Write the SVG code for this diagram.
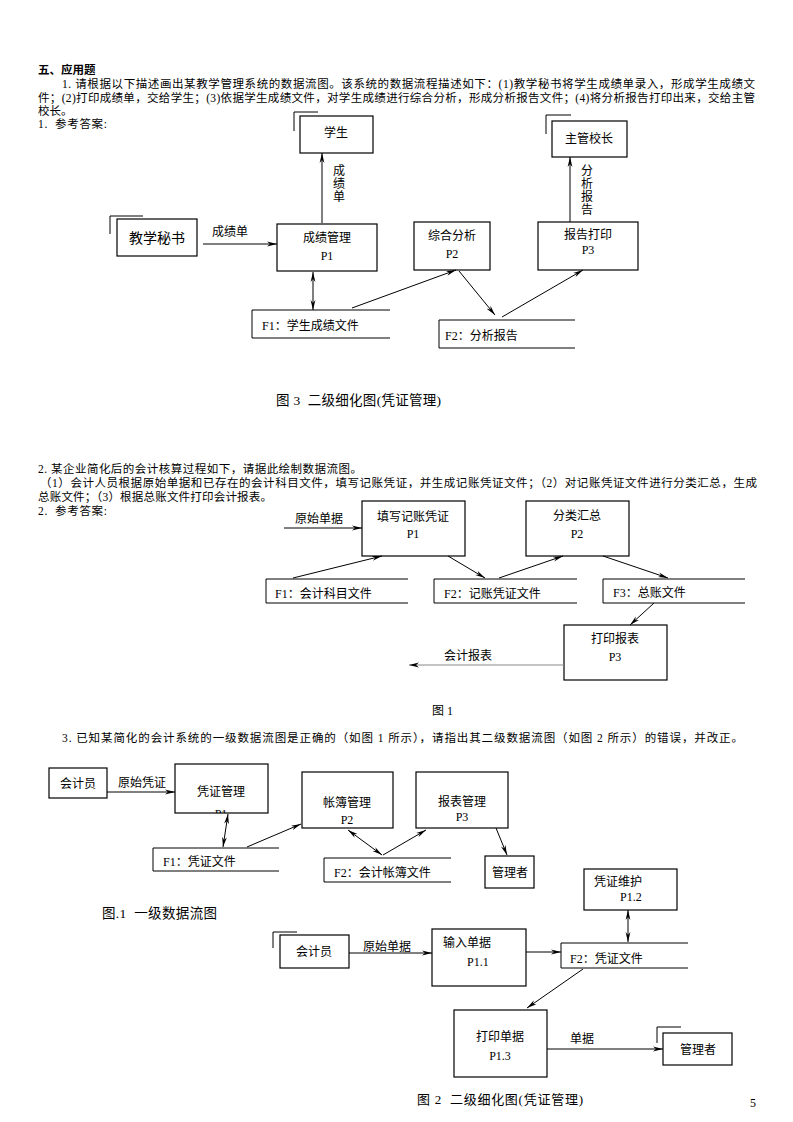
<svg xmlns="http://www.w3.org/2000/svg" width="793" height="1122" viewBox="0 0 793 1122">
<style>
text{font-family:"Liberation Serif","Noto Sans CJK SC",serif;fill:#000}
.t{font-size:11.5px}
.n{font-size:12px}
.c{text-anchor:middle}
.box{fill:#fff;stroke:#000;stroke-width:1.2}
.ln{fill:none;stroke:#000;stroke-width:1}
.fl{fill:none;stroke:#000;stroke-width:1;marker-end:url(#ah)}
.fl2{fill:none;stroke:#000;stroke-width:1;marker-end:url(#ah);marker-start:url(#as)}
</style>
<defs>
<marker id="ah" viewBox="0 0 10 6" refX="10" refY="3" markerWidth="10" markerHeight="6" markerUnits="userSpaceOnUse" orient="auto"><path d="M0,0.6 L10,3 L0,5.4 L3,3 Z" fill="#000"/></marker>
<marker id="as" viewBox="0 0 10 6" refX="0" refY="3" markerWidth="10" markerHeight="6" markerUnits="userSpaceOnUse" orient="auto"><path d="M10,0.6 L0,3 L10,5.4 L7,3 Z" fill="#000"/></marker>
<clipPath id="cp1"><rect x="175" y="764" width="93" height="49"/></clipPath>
</defs>

<g id="text-section1">
<text x="38" y="74" class="t" font-weight="bold">五、应用题</text>
<text x="62" y="88" class="t" textLength="693" lengthAdjust="spacing">1. 请根据以下描述画出某教学管理系统的数据流图。该系统的数据流程描述如下：(1)教学秘书将学生成绩单录入，形成学生成绩文</text>
<text x="38" y="102" class="t" textLength="717" lengthAdjust="spacing">件；(2)打印成绩单，交给学生；(3)依据学生成绩文件，对学生成绩进行综合分析，形成分析报告文件；(4)将分析报告打印出来，交给主管</text>
<text x="38" y="115" class="t">校长。</text>
<text x="38" y="128" class="t" textLength="69" lengthAdjust="spacing">1.&#160;&#160;参考答案:</text>
</g>

<g id="d1-student">
<path class="ln" d="M294,112 H318 M294,112 V131"/>
<rect class="box" x="300" y="116" width="73" height="37"/>
<text x="336" y="137" class="n c">学生</text>
</g>
<g id="d1-secretary">
<path class="ln" d="M110,216 H143 M110,216 V234"/>
<rect class="box" x="117" y="219" width="80" height="37"/>
<text x="157" y="243" class="c" font-size="14">教学秘书</text>
</g>
<g id="d1-p1">
<rect class="box" x="277" y="224" width="100" height="47"/>
<text x="327" y="242" class="n c">成绩管理</text>
<text x="327" y="260" class="n c">P1</text>
</g>
<g id="d1-p2">
<rect class="box" x="414" y="222" width="76" height="48"/>
<text x="452" y="240" class="n c">综合分析</text>
<text x="452" y="258" class="n c">P2</text>
</g>
<g id="d1-p3">
<rect class="box" x="538" y="222" width="100" height="48"/>
<text x="588" y="239" class="n c">报告打印</text>
<text x="588" y="254" class="n c">P3</text>
</g>
<g id="d1-principal">
<path class="ln" d="M546,115 H571 M546,115 V134"/>
<rect class="box" x="552" y="121" width="75" height="36"/>
<text x="589" y="143" class="n c">主管校长</text>
</g>
<g id="d1-f1">
<path class="ln" d="M390,310 H252 V338 H390"/>
<text x="262" y="330" class="n">F1：学生成绩文件</text>
</g>
<g id="d1-f2">
<path class="ln" d="M575,320 H439 V348 H575"/>
<text x="445" y="340" class="n">F2：分析报告</text>
</g>
<g id="d1-connectors">
<path class="fl" d="M203,244 H277"/>
<text x="212" y="236" class="n">成绩单</text>
<path class="fl" d="M322,223 V153"/>
<text x="339" y="175" class="n c">成</text>
<text x="339" y="188" class="n c">绩</text>
<text x="339" y="201" class="n c">单</text>
<path class="fl2" d="M313,272 V310"/>
<path class="fl" d="M352,308 L456,270"/>
<path class="fl" d="M459,271 L495,315"/>
<path class="fl" d="M502,317 L583,270"/>
<path class="fl" d="M570,222 V157"/>
<text x="587" y="175" class="n c">分</text>
<text x="587" y="188" class="n c">析</text>
<text x="587" y="201" class="n c">报</text>
<text x="587" y="214" class="n c">告</text>
</g>
<text x="276" y="405" font-size="13.5" textLength="165" lengthAdjust="spacing">图 3&#160;&#160;二级细化图(凭证管理)</text>

<g id="text-section2">
<text x="38" y="473" class="t" textLength="324" lengthAdjust="spacing">2. 某企业简化后的会计核算过程如下，请据此绘制数据流图。</text>
<text x="40" y="487" class="t" textLength="717" lengthAdjust="spacing">（1）会计人员根据原始单据和已存在的会计科目文件，填写记账凭证，并生成记账凭证文件；（2）对记账凭证文件进行分类汇总，生成</text>
<text x="38" y="501" class="t" textLength="234" lengthAdjust="spacing">总账文件；（3）根据总账文件打印会计报表。</text>
<text x="38" y="515" class="t" textLength="69" lengthAdjust="spacing">2.&#160;&#160;参考答案:</text>
</g>

<g id="d2-p1">
<rect class="box" x="362" y="501" width="103" height="55"/>
<text x="413" y="521" class="n c">填写记账凭证</text>
<text x="413" y="538" class="n c">P1</text>
</g>
<g id="d2-p2">
<rect class="box" x="526" y="501" width="103" height="55"/>
<text x="577" y="520" class="n c">分类汇总</text>
<text x="577" y="538" class="n c">P2</text>
</g>
<g id="d2-p3">
<rect class="box" x="564" y="625" width="103" height="55"/>
<text x="615" y="643" class="n c">打印报表</text>
<text x="615" y="661" class="n c">P3</text>
</g>
<g id="d2-f1">
<path class="ln" d="M408,579 H266 V603 H408"/>
<text x="275" y="598" class="n">F1：会计科目文件</text>
</g>
<g id="d2-f2">
<path class="ln" d="M577,579 H434 V603 H577"/>
<text x="444" y="598" class="n">F2：记账凭证文件</text>
</g>
<g id="d2-f3">
<path class="ln" d="M745,579 H603 V603 H745"/>
<text x="613" y="597" class="n">F3：总账文件</text>
</g>
<g id="d2-connectors">
<path class="fl" d="M284,528 H362"/>
<text x="295" y="523" class="n">原始单据</text>
<path class="fl" d="M293,578 L382,556"/>
<path class="fl" d="M448,556 L485,578"/>
<path class="fl" d="M499,578 L563,556"/>
<path class="fl" d="M603,556 L668,578"/>
<path class="fl" d="M654,603 L630,625"/>
<path d="M564,665 H409" fill="none" stroke="#888" stroke-width="1" marker-end="url(#ah)"/>
<text x="444" y="660" class="n">会计报表</text>
</g>
<text x="432" y="715" class="n">图 1</text>

<text x="62" y="742" class="t" textLength="681" lengthAdjust="spacing">3. 已知某简化的会计系统的一级数据流图是正确的（如图 1 所示），请指出其二级数据流图（如图 2 所示）的错误，并改正。</text>

<g id="d3-clerk">
<rect class="box" x="49" y="768" width="58" height="30"/>
<text x="78" y="788" class="n c">会计员</text>
</g>
<g id="d3-p1">
<rect class="box" x="175" y="764" width="93" height="49"/>
<text x="221" y="796" class="n c">凭证管理</text>
<text x="221" y="818" class="n c" clip-path="url(#cp1)">P1</text>
</g>
<g id="d3-p2">
<rect class="box" x="302" y="772" width="91" height="56"/>
<text x="347" y="807" class="n c">帐簿管理</text>
<text x="347" y="824" class="n c">P2</text>
</g>
<g id="d3-p3">
<rect class="box" x="416" y="772" width="92" height="56"/>
<text x="462" y="806" class="n c">报表管理</text>
<text x="462" y="821" class="n c">P3</text>
</g>
<g id="d3-manager">
<rect class="box" x="485" y="856" width="49" height="32"/>
<text x="510" y="877" class="n c">管理者</text>
</g>
<g id="d3-f1">
<path class="ln" d="M279,848 H153 V871 H279"/>
<text x="163" y="866" class="n">F1：凭证文件</text>
</g>
<g id="d3-f2">
<path class="ln" d="M451,858 H324 V882 H451"/>
<text x="334" y="877" class="n">F2：会计帐簿文件</text>
</g>
<g id="d3-connectors">
<path class="fl" d="M107,792 H175"/>
<text x="118" y="787" class="n">原始凭证</text>
<path class="fl2" d="M228,814 L223,847"/>
<path class="fl" d="M247,847 L301,824"/>
<path class="fl2" d="M348,830 L382,855"/>
<path class="fl" d="M383,855 L426,830"/>
<path class="fl" d="M496,828 L507,855"/>
</g>
<text x="102" y="918" font-size="13.5" textLength="115" lengthAdjust="spacing">图.1&#160;&#160;一级数据流图</text>

<g id="d4-p12">
<rect class="box" x="584" y="869" width="93" height="41"/>
<text x="594" y="886" class="n">凭证维护</text>
<text x="620" y="901" class="n">P1.2</text>
</g>
<g id="d4-f2">
<path class="ln" d="M688,943 H561 V968 H688"/>
<text x="570" y="963" class="n">F2：凭证文件</text>
</g>
<g id="d4-clerk">
<path class="ln" d="M273,932 H297 M273,932 V948"/>
<rect class="box" x="280" y="935" width="69" height="33"/>
<text x="314" y="956" class="n c">会计员</text>
</g>
<g id="d4-p11">
<rect class="box" x="432" y="929" width="94" height="57"/>
<text x="443" y="947" class="n">输入单据</text>
<text x="467" y="966" class="n">P1.1</text>
</g>
<g id="d4-p13">
<rect class="box" x="454" y="1010" width="93" height="67"/>
<text x="500" y="1041" class="n c">打印单据</text>
<text x="500" y="1060" class="n c">P1.3</text>
</g>
<g id="d4-manager">
<path class="ln" d="M657,1027 H681 M657,1027 V1043"/>
<rect class="box" x="663" y="1033" width="69" height="32"/>
<text x="698" y="1054" class="n c">管理者</text>
</g>
<g id="d4-connectors">
<path class="fl2" d="M628,910 V942"/>
<path class="fl" d="M349,953 H432"/>
<text x="363" y="951" class="n">原始单据</text>
<path class="fl" d="M526,952 H561"/>
<path class="fl" d="M583,969 L527,1008"/>
<path class="fl" d="M547,1049 H663"/>
<text x="570" y="1043" class="n">单据</text>
</g>
<text x="417" y="1104" font-size="13" textLength="166" lengthAdjust="spacing">图 2&#160;&#160;二级细化图(凭证管理)</text>
<text x="750" y="1107" class="n">5</text>
</svg>
